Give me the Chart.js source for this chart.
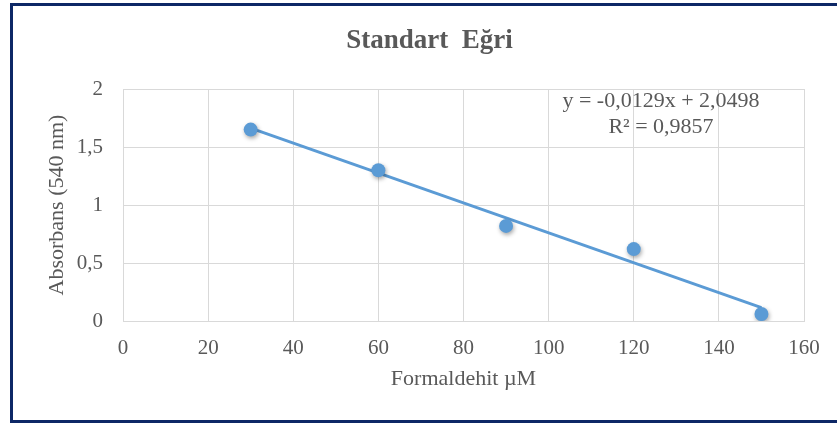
<!DOCTYPE html>
<html>
<head>
<meta charset="utf-8">
<script src="https://cdn.jsdelivr.net/npm/chart.js@4"></script>
<style>
    html, body { margin: 0; padding: 0; background: #fff; overflow: hidden; }
    #wrap { position: relative; width: 837px; height: 423px; }
    #frame {
        position: absolute; left: 10px; top: 3px; width: 840px; height: 420px;
        box-sizing: border-box; border: 3px solid #0d2866; pointer-events: none;
    }
    #chartBox { position: absolute; left: 0; top: 0; width: 837px; height: 423px; }
</style>
</head>
<body>
<div id="wrap">
    <div id="frame"></div>
    <div id="chartBox"><canvas id="curva"></canvas></div>
</div>
<script>
// Datos
const concentraciones = [30, 60, 90, 120, 150];
const absorbancias = [1.65, 1.30, 0.82, 0.62, 0.06];
const xTicks = [0, 20, 40, 60, 80, 100, 120, 140, 160];
const yTickLabels = ['0', '0,5', '1', '1,5', '2'];
// Línea de tendencia (ecuación mostrada en el gráfico)
const trendSlope = [-0.0129];
const trendIntercept = [2.0498];
const ecuacion = ['y = -0,0129x + 2,0498', 'R² = 0,9857'];

const textColor = '#595959';
const gridColor = '#d9d9d9';
const blue = '#5b9bd5';

const trendX = [concentraciones[0], concentraciones[concentraciones.length - 1]];
const trendData = trendX.map(x => ({ x: x, y: trendSlope[0] * x + trendIntercept[0] }));

const shadowPlugin = {
    id: 'shadowPuntos',
    beforeDatasetDraw(chart, args) {
        if (args.index !== 0) return;
        const ctx = chart.ctx;
        ctx.save();
        ctx.shadowColor = 'rgba(0,0,0,0.35)';
        ctx.shadowBlur = 4;
        ctx.shadowOffsetX = 1;
        ctx.shadowOffsetY = 2;
    },
    afterDatasetDraw(chart, args) {
        if (args.index !== 0) return;
        chart.ctx.restore();
    }
};

const ecuacionPlugin = {
    id: 'ecuacion',
    afterDraw(chart) {
        const ctx = chart.ctx;
        const area = chart.chartArea;
        ctx.save();
        ctx.font = '22px "Liberation Serif", "Times New Roman", serif';
        ctx.fillStyle = textColor;
        ctx.textAlign = 'center';
        ctx.textBaseline = 'middle';
        const cx = area.right - 143;
        ecuacion.forEach((linea, i) => {
            ctx.fillText(linea, cx, area.top + 12 + i * 26);
        });
        ctx.restore();
    }
};

const ctx = document.getElementById('curva').getContext('2d');
new Chart(ctx, {
    type: 'scatter',
    data: {
        datasets: [
            {
                label: 'Absorbans',
                data: concentraciones.map((x, i) => ({ x: x, y: absorbancias[i] })),
                backgroundColor: blue,
                borderColor: blue,
                pointRadius: 7,
                pointHoverRadius: 7,
                borderWidth: 0
            },
            {
                label: 'Doğrusal',
                data: trendData,
                showLine: true,
                borderColor: blue,
                borderWidth: 3,
                pointRadius: 0,
                fill: false
            }
        ]
    },
    options: {
        responsive: true,
        maintainAspectRatio: false,
        animation: false,
        layout: {
            padding: { left: 55, right: 33, top: 0, bottom: 31 }
        },
        plugins: {
            legend: { display: false },
            tooltip: { enabled: false },
            title: {
                display: true,
                text: 'Standart  Eğri',
                color: textColor,
                font: { family: '"Liberation Serif", "Times New Roman", serif', size: 27, weight: 'bold' },
                padding: { top: 24.6, bottom: 32 }
            }
        },
        scales: {
            x: {
                type: 'linear',
                min: 0,
                max: 160,
                afterBuildTicks: (scale) => {
                    scale.ticks = xTicks.map(v => ({ value: v }));
                },
                afterFit: (scale) => { scale.height = 71; },
                grid: { color: gridColor, lineWidth: 1, drawTicks: false },
                border: { color: gridColor, width: 1 },
                ticks: {
                    color: textColor,
                    padding: 15,
                    font: { family: '"Liberation Serif", "Times New Roman", serif', size: 21 }
                },
                title: {
                    display: true,
                    text: 'Formaldehit µM',
                    color: textColor,
                    padding: 0,
                    font: { family: '"Liberation Serif", "Times New Roman", serif', size: 22 }
                }
            },
            y: {
                min: 0,
                max: 2,
                afterBuildTicks: (scale) => {
                    scale.ticks = yTickLabels.map((t, i) => ({ value: i * 0.5 }));
                },
                afterFit: (scale) => { scale.width = 68; },
                grid: { color: gridColor, lineWidth: 1, drawTicks: false },
                border: { color: gridColor, width: 1 },
                ticks: {
                    color: textColor,
                    padding: 20,
                    font: { family: '"Liberation Serif", "Times New Roman", serif', size: 21 },
                    callback: (value, index) => yTickLabels[index]
                },
                title: {
                    display: true,
                    text: 'Absorbans (540 nm)',
                    color: textColor,
                    padding: { top: -10.7, bottom: 0 },
                    font: { family: '"Liberation Serif", "Times New Roman", serif', size: 22 }
                }
            }
        }
    },
    plugins: [shadowPlugin, ecuacionPlugin]
});
</script>
</body>
</html>
